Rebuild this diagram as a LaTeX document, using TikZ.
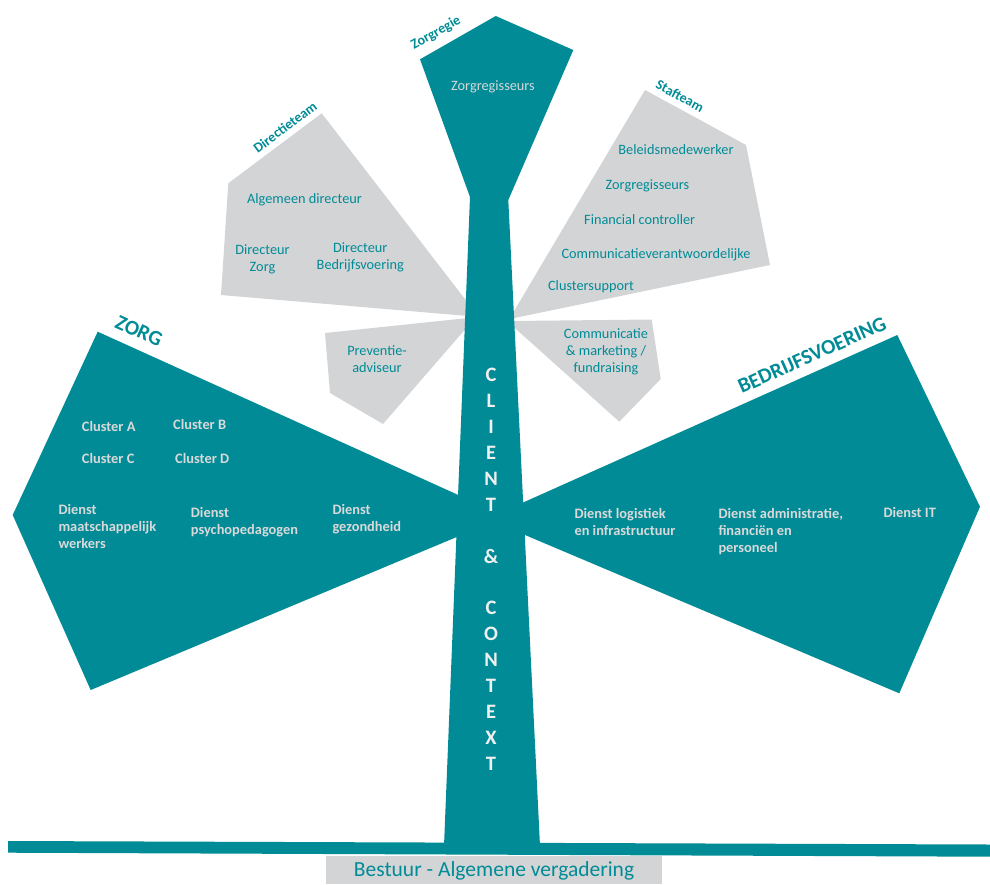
\documentclass[tikz,border=0pt]{standalone}
\usepackage{fontspec}
\setmainfont{Carlito}
\definecolor{tealc}{RGB}{0,139,150}
\definecolor{grayc}{RGB}{211,212,214}
\definecolor{lightc}{RGB}{217,217,217}
\begin{document}
\begin{tikzpicture}[x=1pt,y=-1pt,
  tealshape/.style={fill=tealc, draw=none},
  grayshape/.style={fill=grayc, draw=none},
  graytxt/.style={font=\fontsize{14.3}{17}\selectfont, text=tealc, inner sep=0pt, align=center},
  tealtxt/.style={font=\bfseries\fontsize{14.4}{17}\selectfont, text=lightc, inner sep=0pt, align=left},
  smalltitle/.style={font=\bfseries\fontsize{14}{16}\selectfont, text=tealc, inner sep=0pt},
  bigtitle/.style={font=\bfseries\fontsize{21}{25}\selectfont, text=tealc, inner sep=0pt},
  letterc/.style={font=\bfseries\fontsize{20.5}{22}\selectfont, text=white!94!black, inner sep=0pt}]
\useasboundingbox (0,0) rectangle (990,884);

% gray petals
\fill[grayshape] (321.7,113.3) -- (228.3,183.3) -- (221,295) -- (468,316) -- (468,303) -- cycle;
\fill[grayshape] (325,333) -- (330,393) -- (383,424) -- (468,326) -- (468,318) -- cycle;
\fill[grayshape] (645,90) -- (746,145) -- (770,265) -- (512,318.5) -- (512,314.5) -- cycle;
\fill[grayshape] (512,321) -- (651.7,319.5) -- (660.7,379) -- (619.3,421.7) -- (512,325.5) -- cycle;

% teal branches
\fill[tealshape] (97.7,331.7) -- (12.7,515) -- (90.7,690) -- (456,537.3) -- (490,537.3) -- (490,495) -- (458.3,495) -- cycle;
\fill[tealshape] (500,502.7) -- (522.7,502.7) -- (897.3,335) -- (980,506.7) -- (899.3,693.3) -- (525,535) -- (500,535) -- cycle;

% trunk with Zorgregie head
\fill[tealshape] (495.7,16) -- (573.3,50) -- (508.3,200) -- (540,846) -- (444,846) -- (470,197) -- (420,59.3) -- cycle;

% base bar
\fill[tealshape] (8,841) -- (990,844.5) -- (990,856.7) -- (8,852.7) -- cycle;
\fill[grayshape] (326,856) rectangle (662,884);
\node[font=\fontsize{21.5}{25}\selectfont, text=tealc, inner sep=0pt] (bestuur) at (494,871) {Bestuur - Algemene vergadering};

% titles along edges
\node[smalltitle, rotate=29.5] (zorgregie) at (436,33) {Zorgregie};
\node[smalltitle, rotate=36.7] (directieteam) at (285,127) {Directieteam};
\node[smalltitle, rotate=-28.6] (stafteam) at (680,96) {Stafteam};
\node[bigtitle, rotate=-24.5] (zorg) at (139,331) {ZORG};
\node[bigtitle, rotate=24.1] (bedrijf) at (812,355) {BEDRIJFSVOERING};

% Zorgregie
\node[font=\fontsize{14.3}{17}\selectfont, text=lightc, inner sep=0pt] (zreg) at (493,87) {Zorgregisseurs};

% Directieteam
\node[graytxt] (algdir) at (304.5,199.3) {Algemeen directeur};
\node[graytxt] (dirzorg) at (262.5,259) {Directeur\\Zorg};
\node[graytxt] (dirbedr) at (360.3,257.5) {Directeur\\Bedrijfsvoering};
\node[graytxt] (prev) at (377,359) {Preventie-\\adviseur};

% Stafteam
\node[graytxt] (beleid) at (676,150) {Beleidsmedewerker};
\node[graytxt] (zreg2) at (647.5,185.7) {Zorgregisseurs};
\node[graytxt] (fin) at (639.7,220) {Financial controller};
\node[graytxt] (comver) at (656,255) {Communicatieverantwoordelijke};
\node[graytxt] (clsup) at (591,286.7) {Clustersupport};
\node[graytxt] (commark) at (606,351.7) {Communicatie\\\& marketing /\\fundraising};

% Zorg
\node[tealtxt, anchor=west] (cla) at (81.7,426.7) {Cluster A};
\node[tealtxt, anchor=west] (clb) at (173,424.3) {Cluster B};
\node[tealtxt, anchor=west] (clc) at (81.7,458.3) {Cluster C};
\node[tealtxt, anchor=west] (cld) at (175,458.3) {Cluster D};
\node[tealtxt, anchor=north west] (dmw) at (58.3,504) {Dienst\\maatschappelijk\\werkers};
\node[tealtxt, anchor=north west] (dpp) at (190.7,507.4) {Dienst\\psychopedagogen};
\node[tealtxt, anchor=north west] (dgz) at (332.3,504) {Dienst\\gezondheid};

% Bedrijfsvoering
\node[tealtxt, anchor=north west] (dli) at (574.3,508.6) {Dienst logistiek\\en infrastructuur};
\node[tealtxt, anchor=north west] (dafp) at (718.3,508.6) {Dienst administratie,\\financiën en\\personeel};
\node[tealtxt, anchor=north west] (dit) at (883.3,507.6) {Dienst IT};

% Client & context
\foreach \ch/\k in {C/0,L/1,I/2,E/3,N/4,T/5,\&/7,C/9,O/10,N/11,T/12,E/13,X/14,T/15}{
  \node[letterc] (letter\k) at (491,375+25.9*\k) {\ch};
}
\end{tikzpicture}
\end{document}
